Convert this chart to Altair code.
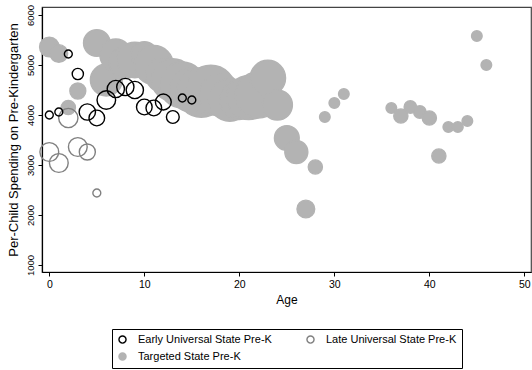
import altair as alt
import pandas as pd

# Early universal state pre-K programs
early_age = [0, 1, 2, 3, 4, 5, 6, 7, 8, 9, 10, 11, 12, 13, 14, 15]
early_spend = [4000, 4060, 5220, 4820, 4060, 3940, 4300, 4520, 4560, 4500, 4160, 4140, 4260, 3960, 4340, 4300]
early_weight = [20, 20, 20, 40, 85, 78, 110, 95, 95, 95, 78, 78, 80, 52, 20, 20]

# Late universal state pre-K programs
late_age = [0, 1, 2, 3, 4, 5]
late_spend = [3260, 3040, 3940, 3360, 3260, 2440]
late_weight = [112, 112, 118, 112, 82, 20]

# Targeted state pre-K programs
targ_age = [0, 1, 2, 3, 5, 6, 7, 8, 9, 10, 11, 12, 13, 14, 15, 16, 17, 18, 19, 20,
            21, 22, 23, 24, 25, 26, 27, 28, 29, 30, 31,
            36, 37, 38, 39, 40, 41, 42, 43, 44, 45, 46]
targ_spend = [5360, 5230, 4150, 4480, 5440, 4700, 5200, 5050, 5100, 5200, 5000, 4800, 4700, 4600, 4500, 4450, 4500, 4400, 4300, 4300,
              4350, 4400, 4740, 4200, 3540, 3260, 2120, 2960, 3960, 4240, 4420,
              4140, 3980, 4160, 4060, 3940, 3180, 3760, 3760, 3880, 5580, 5000]
targ_weight = [121, 100, 64, 81, 225, 324, 324, 324, 400, 225, 484, 400, 576, 676, 625, 784, 784, 576, 576, 484,
               625, 676, 400, 289, 196, 169, 100, 64, 36, 36, 36,
               36, 64, 49, 49, 64, 64, 36, 36, 36, 36, 36]

groups = ["Early Universal State Pre-K", "Late Universal State Pre-K", "Targeted State Pre-K"]

rows = []
for a, s, w in zip(targ_age, targ_spend, targ_weight):
    rows.append({"age": a, "spend": s, "weight": w, "group": groups[2], "layer": 0})
for a, s, w in zip(late_age, late_spend, late_weight):
    rows.append({"age": a, "spend": s, "weight": w, "group": groups[1], "layer": 1})
for a, s, w in zip(early_age, early_spend, early_weight):
    rows.append({"age": a, "spend": s, "weight": w, "group": groups[0], "layer": 2})
df = pd.DataFrame(rows)

FONT = "Liberation Sans"

chart = alt.Chart(df).mark_point(filled=False, strokeWidth=1.4, opacity=1, shape="circle").encode(
    x=alt.X("age:Q", title="Age",
            scale=alt.Scale(domain=[-0.77, 50.7], nice=False, zero=False),
            axis=alt.Axis(values=[0, 10, 20, 30, 40, 50], grid=False, tickSize=4,
                          labelFontSize=10.5, labelPadding=3, titlePadding=5)),
    y=alt.Y("spend:Q", title="Per-Child Spending on Pre-Kindergarten",
            scale=alt.Scale(domain=[860, 6160], nice=False, zero=False),
            axis=alt.Axis(values=[1000, 2000, 3000, 4000, 5000, 6000], format="d", grid=False, tickSize=4,
                          labelFontSize=9.5, labelAngle=270, labelPadding=3, titlePadding=5,
                          titleFontSize=13)),
    size=alt.Size("weight:Q", scale=alt.Scale(domain=[0, 1000], range=[0, 3141.6]), legend=None),
    stroke=alt.Stroke("group:N", title=None,
                      scale=alt.Scale(domain=groups, range=["#000000", "#808080", "#b3b3b3"])),
    fill=alt.Fill("group:N", title=None,
                  scale=alt.Scale(domain=groups, range=["transparent", "transparent", "#b3b3b3"])),
    order=alt.Order("layer:Q"),
).properties(
    width=489, height=265,
    autosize=alt.AutoSizeParams(type="none"),
    padding={"left": 42, "top": 7, "right": 1, "bottom": 98},
).configure_view(
    stroke="#444444", strokeWidth=1.2
).configure_axis(
    labelFont=FONT, titleFont=FONT, titleFontSize=12,
    labelColor="#000000", titleColor="#000000", titleFontWeight="normal",
    domainColor="#000000", tickColor="#000000", domainWidth=1.2,
).configure_legend(
    orient="none", legendX=70, legendY=322, columns=2, direction="horizontal",
    strokeColor="#000000", padding=5, columnPadding=32, rowPadding=4,
    labelFont=FONT, labelFontSize=11, labelColor="#000000",
    symbolSize=50, symbolStrokeWidth=1.4, labelOffset=10,
)

chart.save("out.html", embed_options={"renderer": "svg", "actions": False})
